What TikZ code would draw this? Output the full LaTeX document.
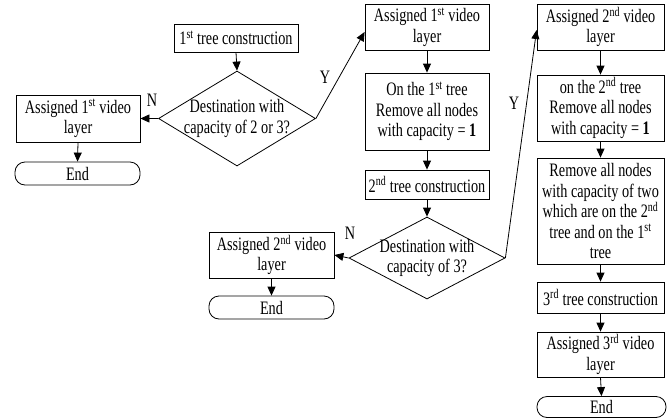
\documentclass[tikz,border=0pt]{standalone}
\usepackage{fontspec}
\setmainfont{Liberation Serif}[FakeStretch=0.75]
\usetikzlibrary{arrows.meta,shapes.geometric}
\begin{document}
\begin{tikzpicture}[x=1pt,y=-1pt,
 every node/.style={font=\fontsize{19}{20.5}\selectfont, align=center, inner sep=2pt},
 box/.style={draw, line width=0.8pt, rectangle},
 endbox/.style={draw, line width=0.8pt, rectangle, rounded corners=10pt},
 dia/.style={draw, line width=0.8pt, diamond, inner sep=-4pt},
 arr/.style={line width=0.8pt, -{Triangle[length=9pt,width=8pt]}},
 lbl/.style={inner sep=0pt}
]
\useasboundingbox (0,0) rectangle (667,418);
% column 1
\node[box, minimum width=124pt, minimum height=28pt] (t1) at (236,38) {1\textsuperscript{st} tree construction};
\node[dia, aspect=1.65, minimum width=157pt, minimum height=95pt] (d1) at (237,118.5) {Destination with\\capacity of 2 or 3?};
\node[box, minimum width=124pt, minimum height=47pt] (a1) at (78,118.5) {Assigned 1\textsuperscript{st} video\\layer};
\node[endbox, minimum width=125pt, minimum height=23pt] (e1) at (77.5,173.5) {End};
% column 2
\node[box, minimum width=124pt, minimum height=46pt] (b2) at (427,27) {Assigned 1\textsuperscript{st} video\\layer};
\node[box, minimum width=124pt, minimum height=77pt] (b3) at (427,111.5) {On the 1\textsuperscript{st} tree\\Remove all nodes\\with capacity = \textbf{1}};
\node[box, minimum width=124pt, minimum height=29pt] (b4) at (427,184.5) {2\textsuperscript{nd} tree construction};
\node[dia, aspect=1.9, minimum width=156pt, minimum height=82pt] (d2) at (427,258) {Destination with\\capacity of 3?};
\node[box, minimum width=125pt, minimum height=46pt] (a2) at (271.5,255) {Assigned 2\textsuperscript{nd} video\\layer};
\node[endbox, minimum width=125pt, minimum height=23pt] (e2) at (271.5,307.5) {End};
% column 3
\node[box, minimum width=127pt, minimum height=46pt] (b5) at (600.5,27) {Assigned 2\textsuperscript{nd} video\\layer};
\node[box, minimum width=127pt, minimum height=66pt] (b6) at (600.5,108) {on the 2\textsuperscript{nd} tree\\Remove all nodes\\with capacity = \textbf{1}};
\node[box, minimum width=127pt, minimum height=106pt] (b7) at (600.5,211) {Remove all nodes\\with capacity of two\\which are on the 2\textsuperscript{nd}\\tree and on the 1\textsuperscript{st}\\tree};
\node[box, minimum width=127pt, minimum height=31pt] (b8) at (600.5,297.5) {3\textsuperscript{rd} tree construction};
\node[box, minimum width=127pt, minimum height=45pt] (b9) at (600.5,354.5) {Assigned 3\textsuperscript{rd} video\\layer};
\node[endbox, minimum width=129pt, minimum height=21pt] (e3) at (601.5,407) {End};
% labels
\node[lbl] (n1) at (152,100) {N};
\node[lbl] (y1) at (325,77) {Y};
\node[lbl] (n2) at (350,233) {N};
\node[lbl] (y2) at (514,103) {Y};
% connectors
\draw[arr] (t1.south) -- (d1.north);
\draw[arr] (d1.west) -- (a1.east);
\draw[arr] (a1.south) -- (e1.north);
\draw[arr] (d1.east) -- ([yshift=-5pt]b2.west);
\draw[arr] (b2.south) -- (b3.north);
\draw[arr] (b3.south) -- (b4.north);
\draw[arr] (b4.south) -- (d2.north);
\draw[arr] (d2.west) -- (a2.east);
\draw[arr] (a2.south) -- (e2.north);
\draw[arr] (d2.east) -- ([yshift=-3pt]b5.west);
\draw[arr] (b5.south) -- (b6.north);
\draw[arr] (b6.south) -- (b7.north);
\draw[arr] (b7.south) -- (b8.north);
\draw[arr] (b8.south) -- (b9.north);
\draw[arr] (b9.south) -- (e3.north);
\end{tikzpicture}
\end{document}
